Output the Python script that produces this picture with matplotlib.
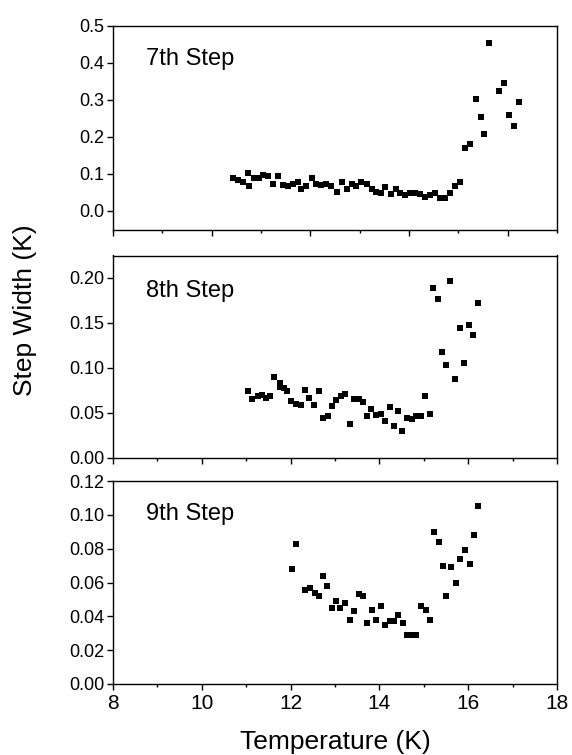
import matplotlib
matplotlib.use('Agg')
import matplotlib.pyplot as plt
import numpy as np
from matplotlib.ticker import MultipleLocator, FormatStrFormatter

plt.rcParams['font.family'] = ['Liberation Sans', 'DejaVu Sans']

# 7th step
t7 = [10.44, 10.54, 10.64, 10.74, 10.76, 10.86, 10.96, 11.05, 11.15, 11.24,
      11.35, 11.44, 11.54, 11.64, 11.74, 11.81, 11.91, 12.03, 12.12, 12.22,
      12.32, 12.42, 12.54, 12.64, 12.74, 12.84, 12.93, 13.03, 13.14, 13.24,
      13.33, 13.43, 13.52, 13.63, 13.73, 13.82, 13.92, 14.02, 14.12, 14.22,
      14.33, 14.43, 14.53, 14.63, 14.73, 14.84, 14.94, 15.04, 15.14, 15.24,
      15.35, 15.45, 15.53, 15.62, 15.82, 15.93, 16.03, 16.13, 16.23]
w7 = [0.090, 0.084, 0.077, 0.102, 0.068, 0.089, 0.089, 0.096, 0.093, 0.073,
      0.093, 0.070, 0.066, 0.073, 0.079, 0.058, 0.066, 0.089, 0.073, 0.070,
      0.073, 0.066, 0.052, 0.079, 0.059, 0.073, 0.066, 0.077, 0.073, 0.059,
      0.050, 0.047, 0.064, 0.046, 0.059, 0.047, 0.043, 0.049, 0.047, 0.046,
      0.038, 0.043, 0.049, 0.034, 0.034, 0.049, 0.066, 0.077, 0.171, 0.182,
      0.303, 0.255, 0.207, 0.454, 0.324, 0.346, 0.258, 0.230, 0.294]

# 8th step
t8 = [11.04, 11.14, 11.26, 11.35, 11.44, 11.54, 11.63, 11.75, 11.76, 11.86,
      11.93, 12.02, 12.12, 12.24, 12.33, 12.42, 12.52, 12.63, 12.73, 12.84,
      12.93, 13.03, 13.14, 13.23, 13.33, 13.43, 13.53, 13.63, 13.73, 13.82,
      13.93, 14.03, 14.13, 14.23, 14.33, 14.43, 14.52, 14.63, 14.73, 14.83,
      14.93, 15.03, 15.13, 15.21, 15.32, 15.42, 15.51, 15.59, 15.71, 15.81,
      15.90, 16.01, 16.11, 16.21]
w8 = [0.074, 0.065, 0.069, 0.070, 0.066, 0.069, 0.090, 0.083, 0.078, 0.077,
      0.074, 0.063, 0.060, 0.058, 0.075, 0.066, 0.059, 0.074, 0.044, 0.046,
      0.057, 0.064, 0.069, 0.071, 0.037, 0.065, 0.065, 0.062, 0.046, 0.054,
      0.047, 0.048, 0.041, 0.056, 0.035, 0.052, 0.030, 0.044, 0.043, 0.046,
      0.046, 0.069, 0.048, 0.189, 0.177, 0.118, 0.103, 0.197, 0.087, 0.144,
      0.105, 0.148, 0.137, 0.172]

# 9th step
t9 = [12.03, 12.13, 12.33, 12.43, 12.54, 12.63, 12.73, 12.83, 12.93, 13.03,
      13.12, 13.23, 13.33, 13.43, 13.53, 13.63, 13.73, 13.83, 13.92, 14.03,
      14.13, 14.23, 14.33, 14.43, 14.53, 14.62, 14.73, 14.83, 14.93, 15.04,
      15.14, 15.23, 15.34, 15.44, 15.51, 15.61, 15.72, 15.81, 15.92, 16.03,
      16.12, 16.21]
w9 = [0.068, 0.083, 0.0556, 0.057, 0.054, 0.052, 0.064, 0.058, 0.045, 0.049,
      0.045, 0.048, 0.038, 0.043, 0.053, 0.052, 0.036, 0.044, 0.038, 0.046,
      0.035, 0.037, 0.037, 0.041, 0.036, 0.029, 0.029, 0.029, 0.046, 0.044,
      0.038, 0.090, 0.084, 0.070, 0.052, 0.069, 0.060, 0.074, 0.079, 0.071,
      0.088, 0.105]

W, H = 572, 755
fig = plt.figure(figsize=(W / 100, H / 100), dpi=100)


def box(top, bottom, left=113, right=557):
    return [left / W, 1 - bottom / H, (right - left) / W, (bottom - top) / H]


ax1 = fig.add_axes(box(26, 230))
ax2 = fig.add_axes(box(255.5, 457.5))
ax3 = fig.add_axes(box(481, 684))

panels = [
    (ax1, t7, w7, '7th Step', (8, 17), (-0.052, 0.5), 0.1, '%.1f', 0.838),
    (ax2, t8, w8, '8th Step', (8, 18), (0, 0.225), 0.05, '%.2f', 0.824),
    (ax3, t9, w9, '9th Step', (8, 18), (0, 0.12), 0.02, '%.2f', 0.837),
]

for ax, t, w, label, xl, yl, ystep, fmt, ty in panels:
    ax.plot(t, w, 's', color='black', ms=4.6, mew=0)
    ax.set_xlim(*xl)
    ax.set_ylim(*yl)
    ax.xaxis.set_major_locator(MultipleLocator(2))
    ax.xaxis.set_minor_locator(MultipleLocator(1))
    ax.yaxis.set_major_locator(MultipleLocator(ystep))
    ax.yaxis.set_major_formatter(FormatStrFormatter(fmt))
    ax.tick_params(axis='both', which='major', direction='out', length=4,
                   width=1, labelsize=13, pad=2)
    ax.tick_params(axis='x', which='minor', direction='out', length=2.5,
                   width=1)
    ax.tick_params(axis='x', labelsize=15, pad=3)
    for s in ax.spines.values():
        s.set_linewidth(1)
    ax.text(0.075, ty, label, transform=ax.transAxes, fontsize=17,
            va='center', ha='left')

ax1.tick_params(axis='x', labelbottom=False)
ax2.tick_params(axis='x', labelbottom=False)

fig.text(335 / W, 1 - 742 / H, 'Temperature (K)', fontsize=19,
         ha='center', va='center')
fig.text(25 / W, 1 - 310 / H, 'Step Width (K)', fontsize=19,
         ha='center', va='center', rotation=90)

fig.savefig('out.png', dpi=100)
